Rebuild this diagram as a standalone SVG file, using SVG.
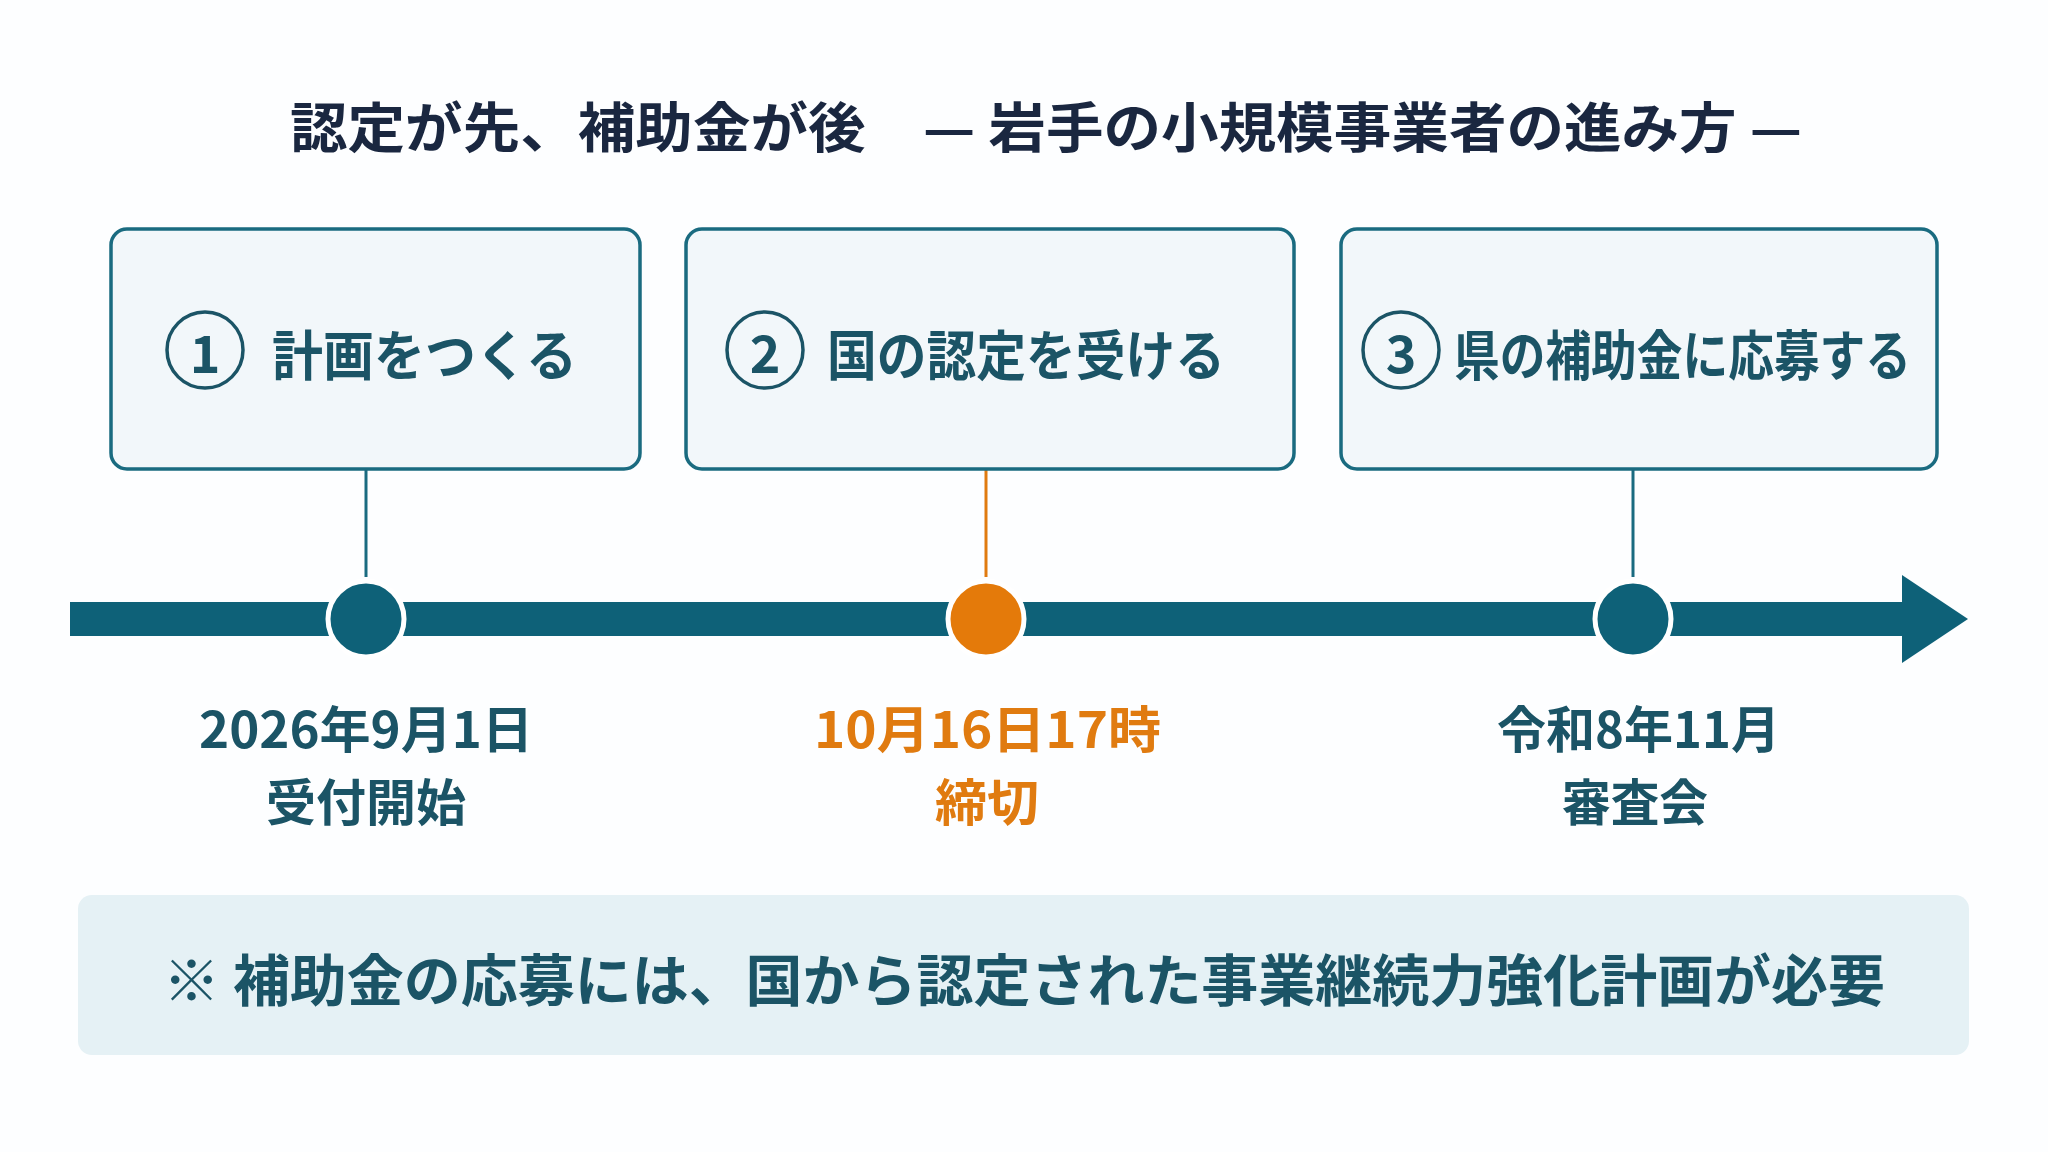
<svg xmlns="http://www.w3.org/2000/svg" width="2048" height="1152" viewBox="0 0 2048 1152">
<style>
text{font-family:"Noto Sans CJK JP","Noto Sans",sans-serif;font-weight:700}
.box{fill:#f2f7fa;stroke:#1a6b80;stroke-width:3.5}
.bt{fill:#1b5466;font-size:54px;dominant-baseline:central}
.num{fill:none;stroke:#1b5466;stroke-width:3.5}
.nt{fill:#1b5466;font-size:52px;text-anchor:middle;dominant-baseline:central}
.lbl{font-size:50px;fill:#1b5466;dominant-baseline:central}
.or{fill:#e07b10}
</style>
<rect width="2048" height="1152" fill="#fdfeff"/>
<text x="290" y="124" textLength="1512" lengthAdjust="spacingAndGlyphs" font-size="54" fill="#1a2740" dominant-baseline="central">認定が先、補助金が後　— 岩手の小規模事業者の進み方 —</text>
<g id="connectors">
<line x1="366" y1="470" x2="366" y2="577" stroke="#1a6b80" stroke-width="3"/>
<line x1="986" y1="470" x2="986" y2="577" stroke="#e07b10" stroke-width="3"/>
<line x1="1633" y1="470" x2="1633" y2="577" stroke="#1a6b80" stroke-width="3"/>
<rect x="70" y="602" width="1840" height="34" fill="#0e6178"/>
<polygon points="1902,575 1968,619 1902,663" fill="#0e6178"/>
<circle cx="366" cy="619" r="38" fill="#0e6178" stroke="#fff" stroke-width="5"/>
<circle cx="986" cy="619" r="38" fill="#e47a0a" stroke="#fff" stroke-width="5"/>
<circle cx="1633" cy="619" r="38" fill="#0e6178" stroke="#fff" stroke-width="5"/>
</g>
<g id="step1"><rect class="box" x="111" y="229" width="529" height="240" rx="16"/>
<circle class="num" cx="205" cy="350" r="38"/><text class="nt" x="205" y="350">1</text>
<text class="bt" x="272" y="352" textLength="305" lengthAdjust="spacingAndGlyphs">計画をつくる</text></g>
<g id="step2"><rect class="box" x="686" y="229" width="608" height="240" rx="16"/>
<circle class="num" cx="765" cy="350" r="38"/><text class="nt" x="765" y="350">2</text>
<text class="bt" x="827" y="352" textLength="398" lengthAdjust="spacingAndGlyphs">国の認定を受ける</text></g>
<g id="step3"><rect class="box" x="1341" y="229" width="596" height="240" rx="16"/>
<circle class="num" cx="1401" cy="350" r="38"/><text class="nt" x="1401" y="350">3</text>
<text class="bt" x="1454" y="352" textLength="457" lengthAdjust="spacingAndGlyphs">県の補助金に応募する</text></g>
<g id="date1"><text class="lbl" x="199" y="726" textLength="334" lengthAdjust="spacingAndGlyphs">2026年9月1日</text><text class="lbl" x="266" y="799" textLength="200" lengthAdjust="spacingAndGlyphs">受付開始</text></g>
<g id="date2"><text class="lbl or" x="814" y="726" textLength="347" lengthAdjust="spacingAndGlyphs">10月16日17時</text><text class="lbl or" x="935" y="799" textLength="104" lengthAdjust="spacingAndGlyphs">締切</text></g>
<g id="date3"><text class="lbl" x="1497" y="726" textLength="283" lengthAdjust="spacingAndGlyphs">令和8年11月</text><text class="lbl" x="1562" y="799" textLength="146" lengthAdjust="spacingAndGlyphs">審査会</text></g>
<g id="note"><rect x="78" y="895" width="1891" height="160" rx="14" fill="#e5f1f5"/>
<text x="163" y="976" textLength="1722" lengthAdjust="spacingAndGlyphs" font-size="56" fill="#1b5466" dominant-baseline="central">※ 補助金の応募には、国から認定された事業継続力強化計画が必要</text></g>
</svg>
